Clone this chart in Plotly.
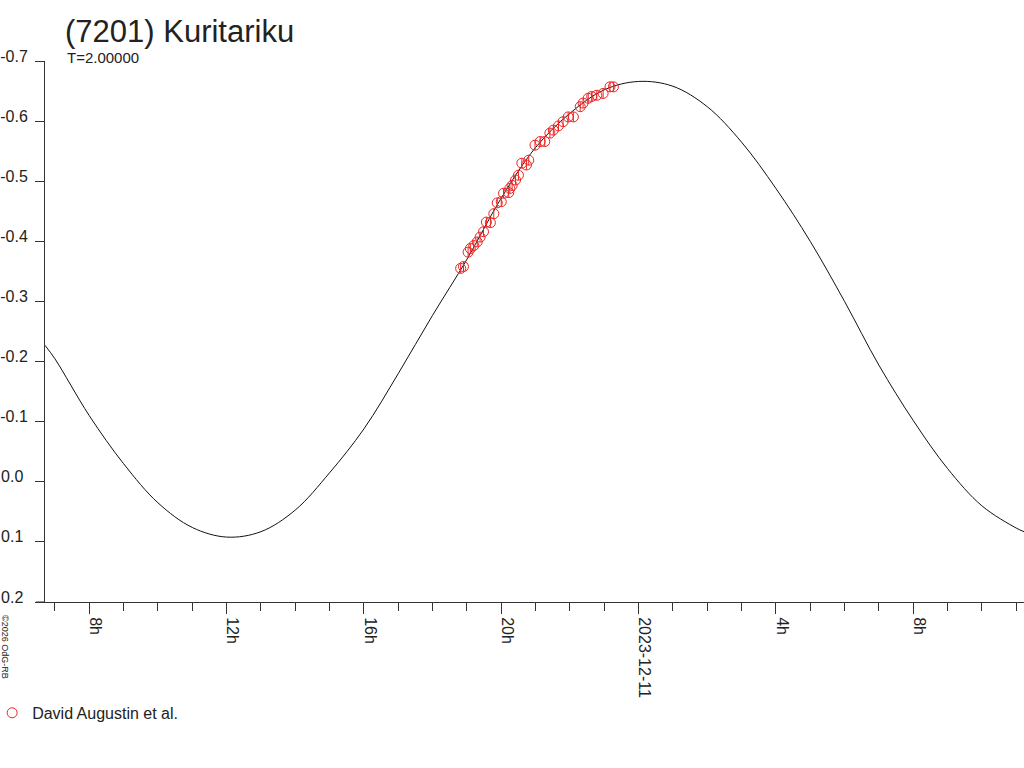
import plotly.graph_objects as go

# ---- data ----
curve_times = [
    "2023-12-10 06:42:36", "2023-12-10 07:00", "2023-12-10 08:00", "2023-12-10 09:00",
    "2023-12-10 10:00", "2023-12-10 11:00", "2023-12-10 12:00", "2023-12-10 13:00",
    "2023-12-10 14:00", "2023-12-10 15:00", "2023-12-10 16:00", "2023-12-10 17:00",
    "2023-12-10 18:00", "2023-12-10 19:00", "2023-12-10 20:00", "2023-12-10 21:00",
    "2023-12-10 22:00", "2023-12-10 23:00", "2023-12-11 00:00", "2023-12-11 01:00",
    "2023-12-11 02:00", "2023-12-11 03:00", "2023-12-11 04:00", "2023-12-11 05:00",
    "2023-12-11 06:00", "2023-12-11 07:00", "2023-12-11 08:00", "2023-12-11 09:00",
    "2023-12-11 10:00", "2023-12-11 11:00", "2023-12-11 11:13:37",
]
curve_mag = [
    -0.227, -0.2045, -0.110, -0.030, 0.035, 0.076, 0.092, 0.083,
    0.047, -0.015, -0.088, -0.180, -0.277, -0.370, -0.472, -0.556,
    -0.613, -0.652, -0.666, -0.658, -0.624, -0.565, -0.488, -0.400,
    -0.300, -0.194, -0.102, -0.022, 0.040, 0.077, 0.083,
]

obs_times = [
    "2023-12-10 18:49", "2023-12-10 18:54", "2023-12-10 19:02", "2023-12-10 19:06",
    "2023-12-10 19:12", "2023-12-10 19:18", "2023-12-10 19:23", "2023-12-10 19:29",
    "2023-12-10 19:34", "2023-12-10 19:41", "2023-12-10 19:47", "2023-12-10 19:53",
    "2023-12-10 20:00", "2023-12-10 20:04", "2023-12-10 20:13", "2023-12-10 20:15",
    "2023-12-10 20:19", "2023-12-10 20:25", "2023-12-10 20:30", "2023-12-10 20:36",
    "2023-12-10 20:44", "2023-12-10 20:48", "2023-12-10 20:59", "2023-12-10 21:08",
    "2023-12-10 21:16", "2023-12-10 21:25", "2023-12-10 21:31", "2023-12-10 21:40",
    "2023-12-10 21:48", "2023-12-10 21:57", "2023-12-10 22:06", "2023-12-10 22:18",
    "2023-12-10 22:23", "2023-12-10 22:32", "2023-12-10 22:38", "2023-12-10 22:47",
    "2023-12-10 22:58", "2023-12-10 23:10", "2023-12-10 23:16",
]
obs_mag = [
    -0.355, -0.358, -0.382, -0.388, -0.393, -0.399, -0.407, -0.416,
    -0.432, -0.431, -0.446, -0.464, -0.466, -0.480, -0.481, -0.488,
    -0.493, -0.502, -0.510, -0.530, -0.527, -0.535, -0.560, -0.566,
    -0.566, -0.580, -0.585, -0.592, -0.599, -0.607, -0.607, -0.624,
    -0.630, -0.638, -0.641, -0.643, -0.646, -0.657, -0.657,
]

x_tickvals = ["2023-12-10 08:00", "2023-12-10 12:00", "2023-12-10 16:00",
              "2023-12-10 20:00", "2023-12-11 00:00", "2023-12-11 04:00",
              "2023-12-11 08:00"]
x_ticktext = ["8h", "12h", "16h", "20h", "2023-12-11", "4h", "8h"]

y_tickvals = [-0.7, -0.6, -0.5, -0.4, -0.3, -0.2, -0.1, 0.0, 0.1, 0.2]
y_ticktext = ["-0.7", "-0.6", "-0.5", "-0.4", "-0.3", "-0.2", "-0.1",
              "0.0\u00a0", "0.1\u00a0", "0.2\u00a0"]

x_range = ["2023-12-10 06:42:36", "2023-12-11 11:13:37"]
y_range = [0.2, -0.7]

title_text = "(7201) Kuritariku"
subtitle_text = "T=2.00000"
observer = "David Augustin et al."
copyright_text = "©2026 OdG-RB"

FONT = "Liberation Sans, Arial, sans-serif"
INK = "#222222"

W, H = 1024, 768

fig = go.Figure()
fig.add_trace(go.Scatter(
    x=curve_times, y=curve_mag, mode="lines",
    line=dict(color="#111111", width=1, shape="spline", smoothing=1.0),
    showlegend=False, hoverinfo="skip",
))
fig.add_trace(go.Scatter(
    x=obs_times, y=obs_mag, mode="markers", name=observer,
    marker=dict(symbol="circle-open", size=10, color="#ee2222",
                line=dict(width=1, color="#ee2222")),
    error_y=dict(type="constant", value=0.008, width=0, thickness=1,
                 color="#ee2222"),
))

fig.update_layout(
    width=W, height=H,
    margin=dict(l=45, r=0, t=61, b=166, autoexpand=False),
    paper_bgcolor="white", plot_bgcolor="white",
    font=dict(family=FONT, color=INK, size=16),
    title=dict(text=title_text, font=dict(size=31, color=INK, family=FONT),
               xref="container", x=65 / W, xanchor="left",
               yref="container", y=1 - 31 / H, yanchor="middle",
               automargin=False),
    showlegend=True,
    legend=dict(orientation="h", x=-0.054, xanchor="left",
                y=-0.205, yanchor="middle", font=dict(size=16, color=INK),
                bgcolor="rgba(0,0,0,0)", itemwidth=30),
    xaxis=dict(
        type="date", range=x_range, tickmode="array", automargin=False,
        tickvals=x_tickvals, ticktext=x_ticktext, tickangle=90,
        ticks="outside", ticklen=11, tickcolor="#333333", tickwidth=1,
        showline=True, linecolor="#333333", linewidth=1,
        showgrid=False, zeroline=False, tickfont=dict(size=16, color=INK),
        ticklabelshift=6,
        minor=dict(tickmode="linear", tick0="2023-12-10 00:00", dtick=3600000,
                   ticks="outside", ticklen=8, tickcolor="#333333",
                   tickwidth=1, showgrid=False),
    ),
    yaxis=dict(
        range=y_range, tickmode="array", tickvals=y_tickvals, automargin=False,
        ticktext=y_ticktext, ticks="outside", ticklen=9,
        tickcolor="#333333", tickwidth=1, showline=True,
        linecolor="#333333", linewidth=1, showgrid=False, zeroline=False,
        tickfont=dict(size=16, color=INK), ticklabelshift=5,
        ticklabelstandoff=4,
    ),
)

# x-axis baseline extends a little to the left of the y-axis
fig.add_shape(type="line", xref="paper", yref="paper",
              x0=-9 / 979, x1=0, y0=0, y1=0,
              line=dict(color="#333333", width=1))

fig.add_annotation(text=subtitle_text, xref="paper", yref="paper",
                   x=20 / 979, y=(602 - 58) / 541, xanchor="left",
                   yanchor="middle", showarrow=False,
                   font=dict(size=15, color=INK, family=FONT))
fig.add_annotation(text=copyright_text, xref="paper", yref="paper",
                   x=-40 / 979, y=(602 - 647) / 541, xanchor="center",
                   yanchor="middle", showarrow=False, textangle=90,
                   font=dict(size=9, color=INK, family=FONT))

# remove the browser's default page margin so the figure sits at (0, 0)
fig.write_html("out.html",
               config={"displayModeBar": False},
               post_script="document.body.style.margin='0';"
                           "document.body.style.overflow='hidden';")
